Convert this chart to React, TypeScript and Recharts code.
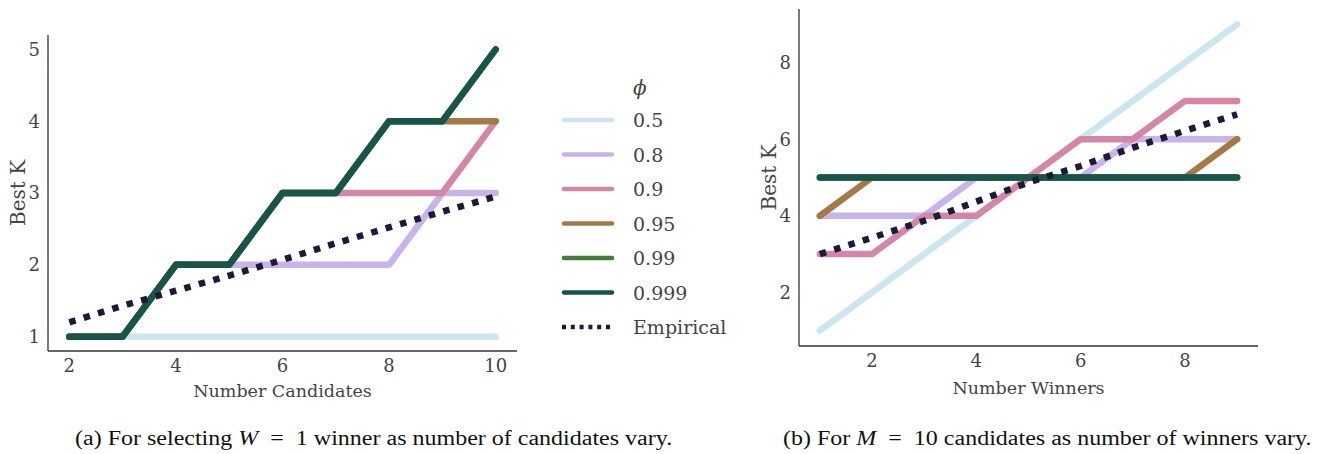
import React from "react";
import { LineChart, Line, XAxis, YAxis } from "recharts";

// (a) W = 1 winner, number of candidates varies
const CANDIDATES = [2, 3, 4, 5, 6, 7, 8, 9, 10];
const A_PHI_05 = [1, 1, 1, 1, 1, 1, 1, 1, 1];
const A_PHI_08 = [1, 1, 2, 2, 2, 2, 2, 3, 3];
const A_PHI_09 = [1, 1, 2, 2, 3, 3, 3, 3, 4];
const A_PHI_095 = [1, 1, 2, 2, 3, 3, 4, 4, 4];
const A_PHI_099 = [1, 1, 2, 2, 3, 3, 4, 4, 5];
const A_PHI_0999 = [1, 1, 2, 2, 3, 3, 4, 4, 5];
const A_EMPIRICAL = [1.2, 1.43, 1.64, 1.85, 2.07, 2.3, 2.52, 2.74, 2.95];
const A_X_TICKS = [2, 4, 6, 8, 10];
const A_Y_TICKS = [1, 2, 3, 4, 5];

// (b) M = 10 candidates, number of winners varies
const WINNERS = [1, 2, 3, 4, 5, 6, 7, 8, 9];
const B_PHI_05 = [1, 2, 3, 4, 5, 6, 7, 8, 9];
const B_PHI_08 = [4, 4, 4, 5, 5, 5, 6, 6, 6];
const B_PHI_09 = [3, 3, 4, 4, 5, 6, 6, 7, 7];
const B_PHI_095 = [4, 5, 5, 5, 5, 5, 5, 5, 6];
const B_PHI_099 = [5, 5, 5, 5, 5, 5, 5, 5, 5];
const B_PHI_0999 = [5, 5, 5, 5, 5, 5, 5, 5, 5];
const B_EMPIRICAL = [3.0, 3.43, 3.87, 4.37, 4.87, 5.3, 5.78, 6.22, 6.65];
const B_X_TICKS = [2, 4, 6, 8];
const B_Y_TICKS = [2, 4, 6, 8];

const SERIES_NAMES = ["0.5", "0.8", "0.9", "0.95", "0.99", "0.999", "Empirical"];
const SERIES_KEYS = ["p05", "p08", "p09", "p095", "p099", "p0999", "emp"];
const SERIES_COLORS = ["#cbe6ee", "#c8b3eb", "#d585a5", "#a47946", "#437c39", "#175449", "#1b1a38"];

const FONT = "'DejaVu Serif', serif";
const TEXT = "#444";
const AXIS = "#333";

function buildRows(xs: number[], series: number[][]) {
  return xs.map((x, i) => {
    const row: Record<string, number> = { x };
    SERIES_KEYS.forEach((k, s) => (row[k] = series[s][i]));
    return row;
  });
}

const dataA = buildRows(CANDIDATES, [A_PHI_05, A_PHI_08, A_PHI_09, A_PHI_095, A_PHI_099, A_PHI_0999, A_EMPIRICAL]);
const dataB = buildRows(WINNERS, [B_PHI_05, B_PHI_08, B_PHI_09, B_PHI_095, B_PHI_099, B_PHI_0999, B_EMPIRICAL]);

const tickStyle = { fontSize: 18, fill: TEXT, fontFamily: FONT };
const labelStyle = { fontSize: 17.5, fill: TEXT, fontFamily: FONT };

function seriesLines() {
  return SERIES_KEYS.map((k, i) => {
    const dotted = k === "emp";
    return (
      <Line
        key={k}
        type="linear"
        dataKey={k}
        stroke={SERIES_COLORS[i]}
        strokeWidth={6.5}
        strokeLinecap={dotted ? "butt" : "round"}
        strokeLinejoin="round"
        strokeDasharray={dotted ? "6.5 8.5" : undefined}
        dot={false}
        activeDot={false}
        isAnimationActive={false}
      />
    );
  });
}

function Panel({ data, width, margin, xDomain, xTicks, yDomain, yTicks, xLabel, xLabelOffset }: any) {
  return (
    <LineChart width={width} height={410} data={data} margin={margin}>
      <XAxis
        dataKey="x"
        type="number"
        domain={xDomain}
        ticks={xTicks}
        allowDataOverflow
        height={50}
        tickLine={false}
        axisLine={{ stroke: AXIS, strokeWidth: 1.3 }}
        tick={tickStyle}
        label={{ value: xLabel, position: "insideBottom", offset: xLabelOffset, style: labelStyle }}
      />
      <YAxis
        type="number"
        domain={yDomain}
        ticks={yTicks}
        allowDataOverflow
        width={40}
        tickLine={false}
        axisLine={{ stroke: AXIS, strokeWidth: 1.3 }}
        tick={tickStyle}
        label={{
          value: "Best K",
          angle: -90,
          position: "insideLeft",
          offset: 10,
          style: { ...labelStyle, fontSize: 20, textAnchor: "middle" },
        }}
      />
      {seriesLines()}
    </LineChart>
  );
}

function PhiLegend() {
  const rowY = (i: number) => 60 + i * 34.5;
  return (
    <svg width={200} height={290} style={{ position: "absolute", left: 540, top: 60 }}>
      <text x={93} y={28} dominantBaseline="central" fontFamily={FONT} fontStyle="italic" fontSize={20} fill={TEXT}>
        ϕ
      </text>
      {SERIES_NAMES.map((name, i) => {
        const dotted = SERIES_KEYS[i] === "emp";
        return (
          <g key={name}>
            <line
              x1={dotted ? 22 : 24}
              x2={dotted ? 74 : 72}
              y1={rowY(i)}
              y2={rowY(i)}
              stroke={SERIES_COLORS[i]}
              strokeWidth={4.5}
              strokeLinecap={dotted ? "butt" : "round"}
              strokeDasharray={dotted ? "4 4.8" : undefined}
            />
            <text x={93} y={rowY(i)} dominantBaseline="central" fontFamily={FONT} fontSize={19} fill={TEXT}>
              {name}
            </text>
          </g>
        );
      })}
    </svg>
  );
}

const captionStyle: React.CSSProperties = {
  position: "absolute",
  top: 427,
  fontFamily: "'Liberation Serif', 'Times New Roman', serif",
  fontSize: 20,
  lineHeight: "22px",
  whiteSpace: "nowrap",
  color: "#111",
  transform: "scaleX(1.2)",
  transformOrigin: "left center",
};

export default function App() {
  return (
    <div style={{ position: "absolute", left: 0, top: 0, width: 1330, height: 454, background: "#fff", overflow: "hidden" }}>
      <div style={{ position: "absolute", left: 0, top: 0 }}>
        <Panel
          data={dataA}
          width={540}
          margin={{ top: 35, right: 23, bottom: 9, left: 8 }}
          xDomain={[1.6, 10.4]}
          xTicks={A_X_TICKS}
          yDomain={[0.8, 5.2]}
          yTicks={A_Y_TICKS}
          xLabel="Number Candidates"
          xLabelOffset={4}
        />
      </div>
      <PhiLegend />
      <div style={{ position: "absolute", left: 740, top: 0 }}>
        <Panel
          data={dataB}
          width={590}
          margin={{ top: 9, right: 72, bottom: 14, left: 19 }}
          xDomain={[0.6, 9.4]}
          xTicks={B_X_TICKS}
          yDomain={[0.6, 9.4]}
          yTicks={B_Y_TICKS}
          xLabel="Number Winners"
          xLabelOffset={2}
        />
      </div>
      <div style={{ ...captionStyle, left: 75 }}>
        (a) For selecting <i>W</i>&nbsp;&nbsp;=&nbsp;&nbsp;1 winner as number of candidates vary.
      </div>
      <div style={{ ...captionStyle, left: 783 }}>
        (b) For <i>M</i>&nbsp;&nbsp;=&nbsp;&nbsp;10 candidates as number of winners vary.
      </div>
    </div>
  );
}
